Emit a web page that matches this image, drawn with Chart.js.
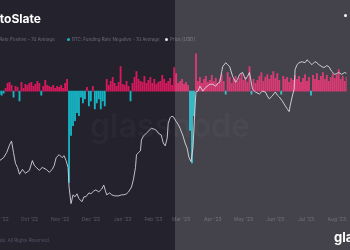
<!DOCTYPE html>
<html>
<head>
<meta charset="utf-8">
<script src="https://cdn.jsdelivr.net/npm/chart.js@4.4.0/dist/chart.umd.min.js"></script>
<style>
html, body { margin: 0; padding: 0; }
body { width: 350px; height: 250px; overflow: hidden; position: relative; background: #24232d; font-family: Inter, "Noto Sans", sans-serif; }
.abs { position: absolute; white-space: nowrap; }
#wrap { position: absolute; left: -40px; top: 0; width: 390px; height: 250px; }
#title { top: 11px; font-size: 12px; font-weight: 700; color: #fff; }
.legend { top: 36.5px; font-size: 4.5px; color: #6a6979; display: flex; align-items: center; }
.dot { width: 3px; height: 3px; border-radius: 50%; margin-right: 2.5px; }
#mark { left: 0; width: 340px; top: 106px; text-align: center; font-size: 32px; font-weight: 600; color: rgba(255,255,255,0.04); }
#logo { left: 334px; top: 229px; font-size: 13px; font-weight: 700; color: #fff; }
#foot { right: 300px; top: 238px; font-size: 4.5px; color: #55546a; }
#info { left: 343.5px; top: 13.5px; width: 3px; height: 3px; border-radius: 50%; background: #fff; }
#shade { left: 175px; top: 0; width: 175px; height: 250px; background: rgba(255,255,255,0.15); pointer-events: none; }
</style>
</head>
<body>
<div id="mark" class="abs">glassnode</div>
<div id="wrap"><canvas id="chart" width="390" height="250"></canvas></div>
<div id="title" class="abs"><span id="pre">Cryp</span>toSlate</div>
<div class="abs legend" style="right:295px"><span class="dot" style="background:#d6185c"></span><span id="lg1"></span></div>
<div class="abs legend" style="left:66.5px"><span class="dot" style="background:#17b4c4"></span><span id="lg2"></span></div>
<div class="abs legend" style="left:164.5px"><span class="dot" style="background:#e6e6ec"></span><span id="lg3"></span></div>
<div id="foot" class="abs">© 2023 Glassnode. All Rights Reserved.</div>
<div id="logo" class="abs">glassnode</div>
<div id="info" class="abs"></div>
<div id="shade" class="abs"></div>
<script>
// Data ==========================
const posLabel = "BTC: Funding Rate Positive - 7d Average";
const negLabel = "BTC: Funding Rate Negative - 7d Average";
const priceLabel = "Price [USD]";

// month ticks (day index from Aug 29 '22)
const monthTicks = [0, 30, 61, 92, 124, 155, 183, 215, 246, 278, 309, 340];
const monthLabels = ["Sep '22", "Oct '22", "Nov '22", "Dec '22", "Jan '23", "Feb '23",
                     "Mar '23", "Apr '23", "May '23", "Jun '23", "Jul '23", "Aug '23"];

// funding oscillator, one value every 2 days starting day 0 (x1e-4 %)
const oscStep = 2;
const osc = [
    -3, -4, -2, 3, 8, 9, 6, -6, 5, 4,
    -10, 9, 3, 7, 6, 8, 9, 5, 7, 10,
    8, -4, 5, 11, 6, 5, 4, 6, 3, 5,
    4, 6, 3, 8, 12, -93, -45, -35, -30, -22,
    -25, -6, -12, -8, 4, -15, -10, 5, -18, -12,
    -8, -18, -10, -15, 12, 6, 10, 14, 8, 5,
    9, 25, 7, 6, 10, 5, -10, 8, 14, 20,
    12, 10, 9, 15, 8, 11, 14, 8, 12, 7,
    9, 10, 16, 12, 8, 10, 13, 6, 24, 18,
    8, 10, 12, 7, 9, 6, -40, -73, -25, 38,
    10, 14, 8, 12, 15, 9, 11, 16, 10, 13,
    8, 12, 17, 10, -3, 19, 14, 8, 12, 15,
    10, 13, 18, 11, 14, 9, 25, -3, 12, 8,
    11, 15, 19, 10, 14, 17, 12, 16, 20, 13,
    18, 11, -3, 15, 12, 14, 9, 13, 11, 16,
    12, 15, 9, 13, 17, 10, 14, -4, 16, 12,
    18, 11, 15, 19, 12, 16, 10, 14, 18, 13,
    17, 22, 12, 15, 10, 14
];

const priceDays = [0, 4, 7, 10, 12, 14, 16, 18, 20, 23, 26, 30, 33, 35, 37, 40, 43, 47, 50, 53,
    55, 57, 60, 63, 65, 67, 69, 70, 72, 74, 76, 78, 80, 83, 85, 87, 90, 92, 95, 97,
    100, 103, 105, 107, 108, 111, 113, 116, 120, 123, 125, 128, 130, 133, 135, 137, 138, 140, 142, 143,
    145, 148, 151, 153, 156, 158, 160, 163, 165, 167, 169, 170, 172, 173, 175, 178, 180, 182, 185, 187,
    189, 191, 193, 195, 197, 198, 200, 202, 205, 208, 212, 215, 218, 220, 222, 224, 225, 228, 230, 232,
    235, 238, 240, 242, 245, 248, 250, 252, 255, 258, 262, 265, 268, 270, 272, 275, 278, 280, 282, 285,
    288, 290, 292, 293, 295, 297, 298, 300, 302, 305, 308, 310, 312, 315, 318, 320, 322, 325, 327, 330,
    332, 335, 338, 340, 342, 345, 348, 350];
const priceUsd = [20340, 20660, 21190, 22030, 22450, 21190, 20030, 19600, 18870, 19390,
    18970, 19290, 20340, 19810, 19600, 19290, 19600, 19390, 19080, 19390,
    19810, 20660, 20980, 20660, 20870, 20340, 19600, 17490, 15700, 16650,
    16440, 16760, 16230, 15910, 16440, 16440, 16860, 16760, 17070, 17180,
    16970, 17280, 17700, 16970, 16650, 16860, 16650, 16540, 16540, 16650,
    16650, 16760, 16970, 17490, 18340, 19600, 20980, 21190, 21400, 22560,
    22980, 23300, 23610, 23820, 23720, 23610, 23300, 23090, 22240, 21930,
    22770, 24350, 24980, 25090, 25090, 24560, 24250, 23820, 22980, 22240,
    21710, 20660, 20240, 21710, 25930, 27730, 27830, 28360, 27830, 28250,
    28570, 28570, 28360, 28680, 28780, 29940, 30470, 30890, 30680, 30470,
    29420, 28780, 29100, 29630, 29840, 29100, 29420, 29840, 28040, 27730,
    27520, 27830, 27730, 27310, 26990, 27310, 27730, 27410, 27200, 26780,
    26250, 25930, 25620, 26250, 27200, 28040, 30150, 30680, 30890, 31000,
    30890, 31210, 31000, 30680, 31000, 30890, 30680, 30470, 30360, 30580,
    30470, 29940, 29630, 29730, 29840, 29630, 29840, 29730];

// Labels ==========================
document.getElementById("lg1").textContent = posLabel;
document.getElementById("lg2").textContent = negLabel;
document.getElementById("lg3").textContent = priceLabel;
const title = document.getElementById("title");
title.style.left = -document.getElementById("pre").offsetWidth + "px";

// Chart ==========================
const pink = "#d6185c";
const cyan = "#17b4c4";
const oscPos = osc.map((v, i) => ({ x: i * oscStep, y: v > 0 ? v : null }));
const oscNeg = osc.map((v, i) => ({ x: i * oscStep, y: v < 0 ? v : null }));
const price = priceDays.map((d, i) => ({ x: d, y: priceUsd[i] }));

const ctx = document.getElementById("chart").getContext("2d");
const chart = new Chart(ctx, {
    type: "bar",
    data: {
        datasets: [
            {
                type: "line",
                label: priceLabel,
                data: price,
                yAxisID: "yPrice",
                borderColor: "#d4d4dc",
                borderWidth: 0.9,
                pointRadius: 0,
                tension: 0,
                order: 0
            },
            {
                label: posLabel,
                data: oscPos,
                yAxisID: "yOsc",
                backgroundColor: pink,
                barThickness: 1.2,
                grouped: false,
                order: 1
            },
            {
                label: negLabel,
                data: oscNeg,
                yAxisID: "yOsc",
                backgroundColor: cyan,
                barThickness: 1.2,
                grouped: false,
                order: 1
            }
        ]
    },
    options: {
        responsive: false,
        animation: false,
        layout: { padding: { top: 45, bottom: 24, left: 0, right: 0 } },
        plugins: { legend: { display: false }, tooltip: { enabled: false } },
        scales: {
            x: {
                type: "linear",
                min: -40,
                max: 350,
                offset: false,
                grid: { display: false, drawTicks: false },
                border: { display: false },
                afterBuildTicks: s => { s.ticks = monthTicks.map(v => ({ value: v })); },
                ticks: {
                    autoSkip: false,
                    maxRotation: 0,
                    padding: 4,
                    color: "#5a596a",
                    font: { size: 5, family: "Inter" },
                    callback: (v, i) => monthLabels[i]
                }
            },
            yOsc: { display: false, min: -123, max: 47 },
            yPrice: { display: false, min: 14800, max: 32800 }
        }
    }
});
</script>
</body>
</html>
